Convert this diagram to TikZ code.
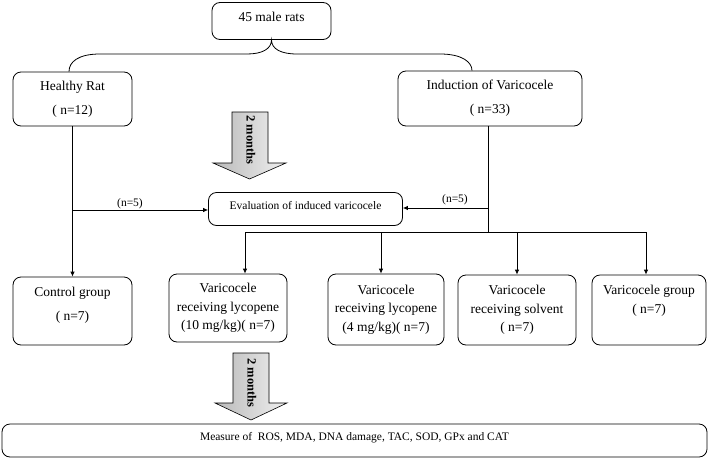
\documentclass[tikz,border=0pt]{standalone}
\usepackage{fontspec}
\setmainfont{Liberation Serif}
\usetikzlibrary{arrows.meta,calc}
\begin{document}
\begin{tikzpicture}[x=1pt,y=-1pt,
  box/.style={draw, line width=0.8pt, rounded corners=8pt, align=center, inner sep=0pt, fill=white},
  big/.style={font=\fontsize{13.5}{24}\selectfont},
  tri/.style={font=\fontsize{13.5}{18.5}\selectfont},
  small/.style={font=\fontsize{11.5}{14}\selectfont},
  conn/.style={line width=0.8pt},
  arr/.style={conn,-{Latex[length=5pt,width=4.5pt]}},
  fat/.style={draw, line width=0.6pt, left color=gray!55, right color=gray!12},
  fattext/.style={font=\bfseries\fontsize{12.5}{14}\selectfont, rotate=-90, inner sep=0pt}
]
\useasboundingbox (0,0) rectangle (709,458);

% boxes
\node[box,big,minimum width=119pt,minimum height=37pt,text depth=9pt] (top) at (271.5,21) {45 male rats};
\node[box,big,minimum width=119pt,minimum height=54pt] (healthy) at (72.5,99) {Healthy Rat\\( n=12)};
\node[box,big,minimum width=184pt,minimum height=55pt] (ind) at (490,98.5) {Induction of Varicocele\\( n=33)};
\node[box,small,minimum width=194pt,minimum height=33pt,text depth=8pt] (eval) at (305.5,209) {Evaluation of induced varicocele};
\node[box,big,minimum width=119pt,minimum height=68pt] (ctrl) at (72.5,311) {Control group\\( n=7)\\[-12pt]\vphantom{(}};
\node[box,tri,minimum width=118pt,minimum height=68pt] (lyc10) at (228,308) {Varicocele\\receiving lycopene\\(10 mg/kg)( n=7)};
\node[box,tri,minimum width=116pt,minimum height=71pt] (lyc4) at (386,309.5) {Varicocele\\receiving lycopene\\(4 mg/kg)( n=7)};
\node[box,tri,minimum width=118pt,minimum height=70pt] (solv) at (517,310) {Varicocele\\receiving solvent\\( n=7)};
\node[box,tri,minimum width=114pt,minimum height=70pt] (vgrp) at (649,310) {Varicocele group\\( n=7)\\\vphantom{(}};
\node[box,small,minimum width=705pt,minimum height=33pt,text depth=9pt] (meas) at (354.5,440.5) {Measure of~ ROS, MDA, DNA damage, TAC, SOD, GPx and CAT};

% brace from the top box
\coordinate (bLx) at (69,0);
\coordinate (bRx) at (472,0);
\coordinate (bL) at (healthy.north -| bLx);
\coordinate (bR) at (ind.north -| bRx);
\draw[conn] (bL) .. controls (69,62) and (78,54) .. (100,54) -- (247,54)
  .. controls (262,54) and (271.5,49) .. (top.south)
  .. controls (271.5,49) and (281,54) .. (297,54) -- (440,54)
  .. controls (462,54) and (472,62) .. (bR);

% big time arrows
\draw[fat] (232,112) -- (268,112) -- (268,163) -- (286,163) -- (249.5,179) -- (213,163) -- (232,163) -- cycle;
\node[fattext] (m1) at (251,140) {2 months};
\draw[fat] (233,353) -- (269,353) -- (269,403) -- (287,403) -- (251,420) -- (215,403) -- (233,403) -- cycle;
\node[fattext] (m2) at (252,383) {2 months};

% connectors
\draw[arr] (healthy.south) -- (ctrl.north);
\coordinate (lj) at (72.5,210);
\draw[arr] (lj) -- (lj -| eval.west);
\node[small] (n5L) at (130,204) {(n=5)};

\coordinate (bus) at (488,232);
\draw[conn] (ind.south -| bus) -- (bus);
\coordinate (rj) at (488,208);
\draw[arr] (rj) -- (rj -| eval.east);
\node[small] (n5R) at (455,200) {(n=5)};

\coordinate (busL) at (245,232);
\coordinate (busR) at (646,232);
\coordinate (d2) at (381,232);
\coordinate (d3) at (517,232);
\draw[conn] (busL) -- (busR);
\draw[arr] (busL) -- (busL |- lyc10.north);
\draw[arr] (d2) -- (d2 |- lyc4.north);
\draw[arr] (d3) -- (d3 |- solv.north);
\draw[arr] (busR) -- (busR |- vgrp.north);
\end{tikzpicture}
\end{document}
